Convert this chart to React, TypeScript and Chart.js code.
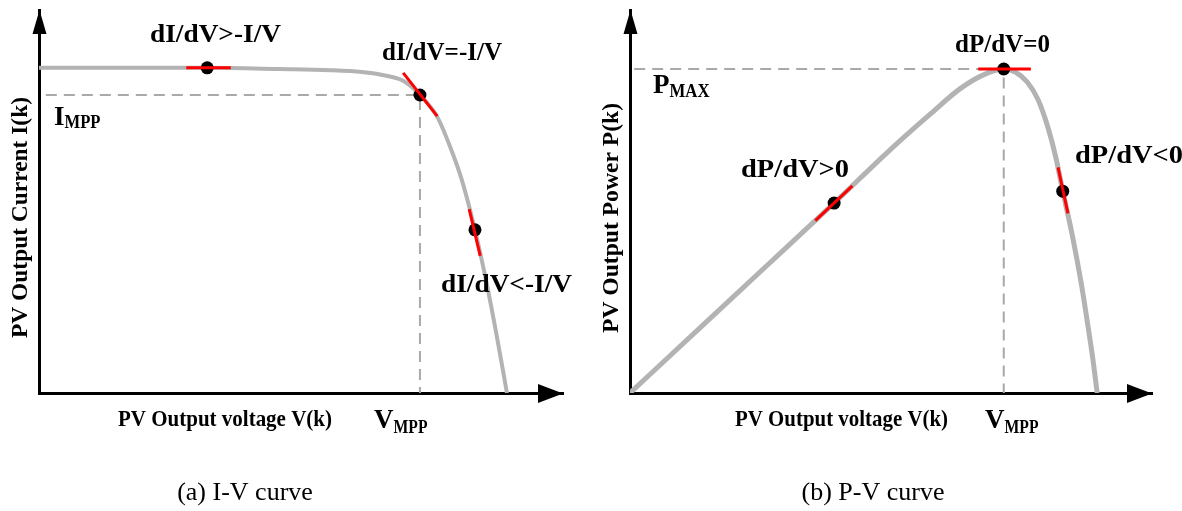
import React, { useEffect, useRef } from "react";
import { Chart, registerables } from "chart.js";

Chart.register(...registerables);

// ---------- I-V curve (normalized units, 0..100) ----------
const ivVoltage = [0, 32.1, 46.0, 55.5, 61.6, 66.0, 69.5, 72.7, 76.0, 78.4, 80.7, 83.2, 85.3, 87.4, 89.3];
const ivCurrent = [84.9, 84.9, 84.6, 84.3, 83.8, 82.9, 81.5, 77.8, 72.1, 64.5, 55.6, 42.6, 29.5, 14.6, 0];
const ivMarkV = [32.1, 72.7, 83.2];
const ivMarkI = [84.9, 77.8, 42.6];
const ivTangentV = [[28.1, 36.6], [69.5, 76.0], [82.1, 84.2]];
const ivTangentI = [[84.9, 84.9], [83.6, 72.3], [48.0, 35.8]];
const ivMppV = 72.7;
const ivMppI = 77.8;
const ivDashStart = 1.3;

// ---------- P-V curve (normalized units, 0..100) ----------
const pvVoltage = [0, 13.4, 24.9, 39.1, 50.4, 57.5, 63.2, 67.6, 71.6, 73.8, 76.1, 78.2, 80.1, 81.6, 82.9, 84.7, 86.4, 87.7, 88.7, 89.5];
const pvPower = [0, 17.0, 31.6, 49.6, 64.2, 72.8, 79.4, 83.0, 84.6, 83.8, 81.2, 76.5, 69.2, 61.4, 52.7, 41.4, 29.0, 17.8, 8.6, 0];
const pvMarkV = [39.1, 71.6, 82.9];
const pvMarkP = [49.6, 84.6, 52.7];
const pvTangentV = [[35.5, 42.6], [66.7, 76.8], [82.0, 83.9]];
const pvTangentP = [[45.0, 54.1], [84.6, 84.6], [58.9, 46.9]];
const pvMppV = 71.6;
const pvMaxP = 84.6;
const pvDashStart = 0.8;

// ---------- texts ----------
const ivTexts = ["dI/dV>-I/V", "dI/dV=-I/V", "dI/dV<-I/V", "I", "MPP", "PV Output voltage V(k)", "V", "MPP", "PV Output Current I(k)", "(a) I-V curve"];
const pvTexts = ["dP/dV=0", "P", "MAX", "dP/dV>0", "dP/dV<0", "PV Output voltage V(k)", "V", "MPP", "PV Output Power P(k)", "(b) P-V curve"];

const FONT = '"Liberation Serif", "Times New Roman", serif';

type Label = {
  t: string;
  x: number;
  y: number;
  size: number;
  bold?: boolean;
  w?: number;
  align?: CanvasTextAlign;
  rot?: boolean;
  sub?: { t: string; size: number; dy: number; w?: number };
};

function drawText(ctx: CanvasRenderingContext2D, text: string, x: number, y: number, size: number, bold: boolean, w: number | undefined, align: CanvasTextAlign, rot: boolean) {
  ctx.save();
  ctx.font = `${bold ? "bold " : ""}${size}px ${FONT}`;
  ctx.textBaseline = "alphabetic";
  ctx.textAlign = align;
  const natural = ctx.measureText(text).width;
  const sx = w ? w / natural : 1;
  ctx.translate(x, y);
  if (rot) ctx.rotate(-Math.PI / 2);
  ctx.scale(sx, 1);
  ctx.fillStyle = "#000";
  ctx.fillText(text, 0, 0);
  ctx.restore();
  return natural * sx;
}

const overlay = {
  id: "overlay",
  afterDraw(chart: any, _args: any, opts: any) {
    const ctx: CanvasRenderingContext2D = chart.ctx;
    const a = chart.chartArea;
    ctx.save();
    ctx.fillStyle = "#000";
    const yx = a.left + 0.5;
    ctx.beginPath();
    ctx.moveTo(yx, a.top);
    ctx.lineTo(yx - 7, a.top + 24);
    ctx.lineTo(yx + 7, a.top + 24);
    ctx.closePath();
    ctx.fill();
    const xy = a.bottom + 0.5;
    ctx.beginPath();
    ctx.moveTo(a.right, xy);
    ctx.lineTo(a.right - 25, xy - 9.5);
    ctx.lineTo(a.right - 25, xy + 9.5);
    ctx.closePath();
    ctx.fill();
    ctx.restore();
    for (const l of (opts.labels || []) as Label[]) {
      const wMain = drawText(ctx, l.t, l.x, l.y, l.size, !!l.bold, l.w, l.align || "left", !!l.rot);
      if (l.sub) {
        drawText(ctx, l.sub.t, l.x + wMain, l.y + l.sub.dy, l.sub.size, !!l.bold, l.sub.w, "left", false);
      }
    }
  },
};

const pts = (xs: number[], ys: number[]) => xs.map((x, i) => ({ x, y: ys[i] }));

function axisScale() {
  return {
    type: "linear" as const,
    min: 0,
    max: 100,
    ticks: { display: false },
    grid: { display: true, drawOnChartArea: false, drawTicks: false },
    border: { display: true, color: "#000", width: 3 },
  };
}

function makeConfig(o: {
  curveX: number[];
  curveY: number[];
  markX: number[];
  markY: number[];
  tanX: number[][];
  tanY: number[][];
  dash: { x: number; y: number }[];
  curveWidth: number;
  padding: any;
  labels: Label[];
}): any {
  const tangents = o.tanX.map((xs, i) => ({
    type: "line",
    data: pts(xs, o.tanY[i]),
    borderColor: "#ff0000",
    borderWidth: 3,
    pointRadius: 0,
    fill: false,
    order: 0,
  }));
  return {
    type: "line",
    data: {
      datasets: [
        ...tangents,
        {
          data: pts(o.markX, o.markY),
          showLine: false,
          pointRadius: 6.5,
          pointBackgroundColor: "#000",
          pointBorderColor: "#000",
          pointBorderWidth: 0,
          order: 1,
        },
        {
          data: pts(o.curveX, o.curveY),
          borderColor: "#b3b3b3",
          borderWidth: o.curveWidth,
          cubicInterpolationMode: "monotone",
          pointRadius: 0,
          fill: false,
          order: 2,
        },
        {
          data: o.dash,
          borderColor: "#a9a9a9",
          borderWidth: 2,
          borderDash: [11, 7],
          pointRadius: 0,
          fill: false,
          order: 3,
        },
      ],
    },
    options: {
      responsive: false,
      animation: false,
      events: [],
      layout: { padding: o.padding },
      plugins: {
        legend: { display: false },
        tooltip: { enabled: false },
        overlay: { labels: o.labels },
      },
      scales: { x: axisScale(), y: axisScale() },
    },
    plugins: [overlay],
  };
}

const ivLabels: Label[] = [
  { t: ivTexts[0], x: 150, y: 42, size: 26, bold: true, w: 131 },
  { t: ivTexts[1], x: 382, y: 60, size: 26, bold: true, w: 120 },
  { t: ivTexts[2], x: 441, y: 292, size: 26, bold: true, w: 131 },
  { t: ivTexts[3], x: 54, y: 125, size: 27, bold: true, sub: { t: ivTexts[4], size: 19, dy: 3, w: 36 } },
  { t: ivTexts[5], x: 118, y: 426, size: 23, bold: true, w: 214 },
  { t: ivTexts[6], x: 374, y: 428, size: 27, bold: true, sub: { t: ivTexts[7], size: 19, dy: 5, w: 34 } },
  { t: ivTexts[8], x: 27, y: 217.5, size: 23, bold: true, w: 241, rot: true, align: "center" },
  { t: ivTexts[9], x: 245, y: 500, size: 26, align: "center" },
];

const pvLabels: Label[] = [
  { t: pvTexts[0], x: 364, y: 52, size: 26, bold: true, w: 95 },
  { t: pvTexts[1], x: 62, y: 93, size: 27, bold: true, sub: { t: pvTexts[2], size: 19, dy: 4, w: 40 } },
  { t: pvTexts[3], x: 150, y: 177, size: 26, bold: true, w: 108 },
  { t: pvTexts[4], x: 484, y: 163, size: 26, bold: true, w: 108 },
  { t: pvTexts[5], x: 144, y: 426, size: 23, bold: true, w: 213 },
  { t: pvTexts[6], x: 394, y: 428, size: 27, bold: true, sub: { t: pvTexts[7], size: 19, dy: 5, w: 34 } },
  { t: pvTexts[8], x: 27, y: 218, size: 23, bold: true, w: 230, rot: true, align: "center" },
  { t: pvTexts[9], x: 282, y: 500, size: 26, align: "center" },
];

function Panel({ left, config }: { left: number; config: () => any }) {
  const ref = useRef<HTMLCanvasElement>(null);
  useEffect(() => {
    const chart = new Chart(ref.current as HTMLCanvasElement, config());
    return () => chart.destroy();
  }, []);
  return (
    <canvas
      ref={ref}
      width={591}
      height={511}
      style={{ position: "absolute", left, top: 0, width: 591, height: 511 }}
    />
  );
}

export default function App() {
  const ivConfig = () =>
    makeConfig({
      curveX: ivVoltage,
      curveY: ivCurrent,
      markX: ivMarkV,
      markY: ivMarkI,
      tanX: ivTangentV,
      tanY: ivTangentI,
      dash: [
        { x: ivDashStart, y: ivMppI },
        { x: ivMppV, y: ivMppI },
        { x: ivMppV, y: 0 },
      ],
      curveWidth: 4,
      padding: { left: 39, right: 28, top: 10, bottom: 118 },
      labels: ivLabels,
    });
  const pvConfig = () =>
    makeConfig({
      curveX: pvVoltage,
      curveY: pvPower,
      markX: pvMarkV,
      markY: pvMarkP,
      tanX: pvTangentV,
      tanY: pvTangentP,
      dash: [
        { x: pvDashStart, y: pvMaxP },
        { x: pvMppV, y: pvMaxP },
        { x: pvMppV, y: 0 },
      ],
      curveWidth: 5,
      padding: { left: 39, right: 30, top: 10, bottom: 118 },
      labels: pvLabels,
    });
  return (
    <div style={{ position: "fixed", left: 0, top: 0, width: 1182, height: 511, background: "#fff", overflow: "hidden" }}>
      <Panel left={0} config={ivConfig} />
      <Panel left={591} config={pvConfig} />
    </div>
  );
}
